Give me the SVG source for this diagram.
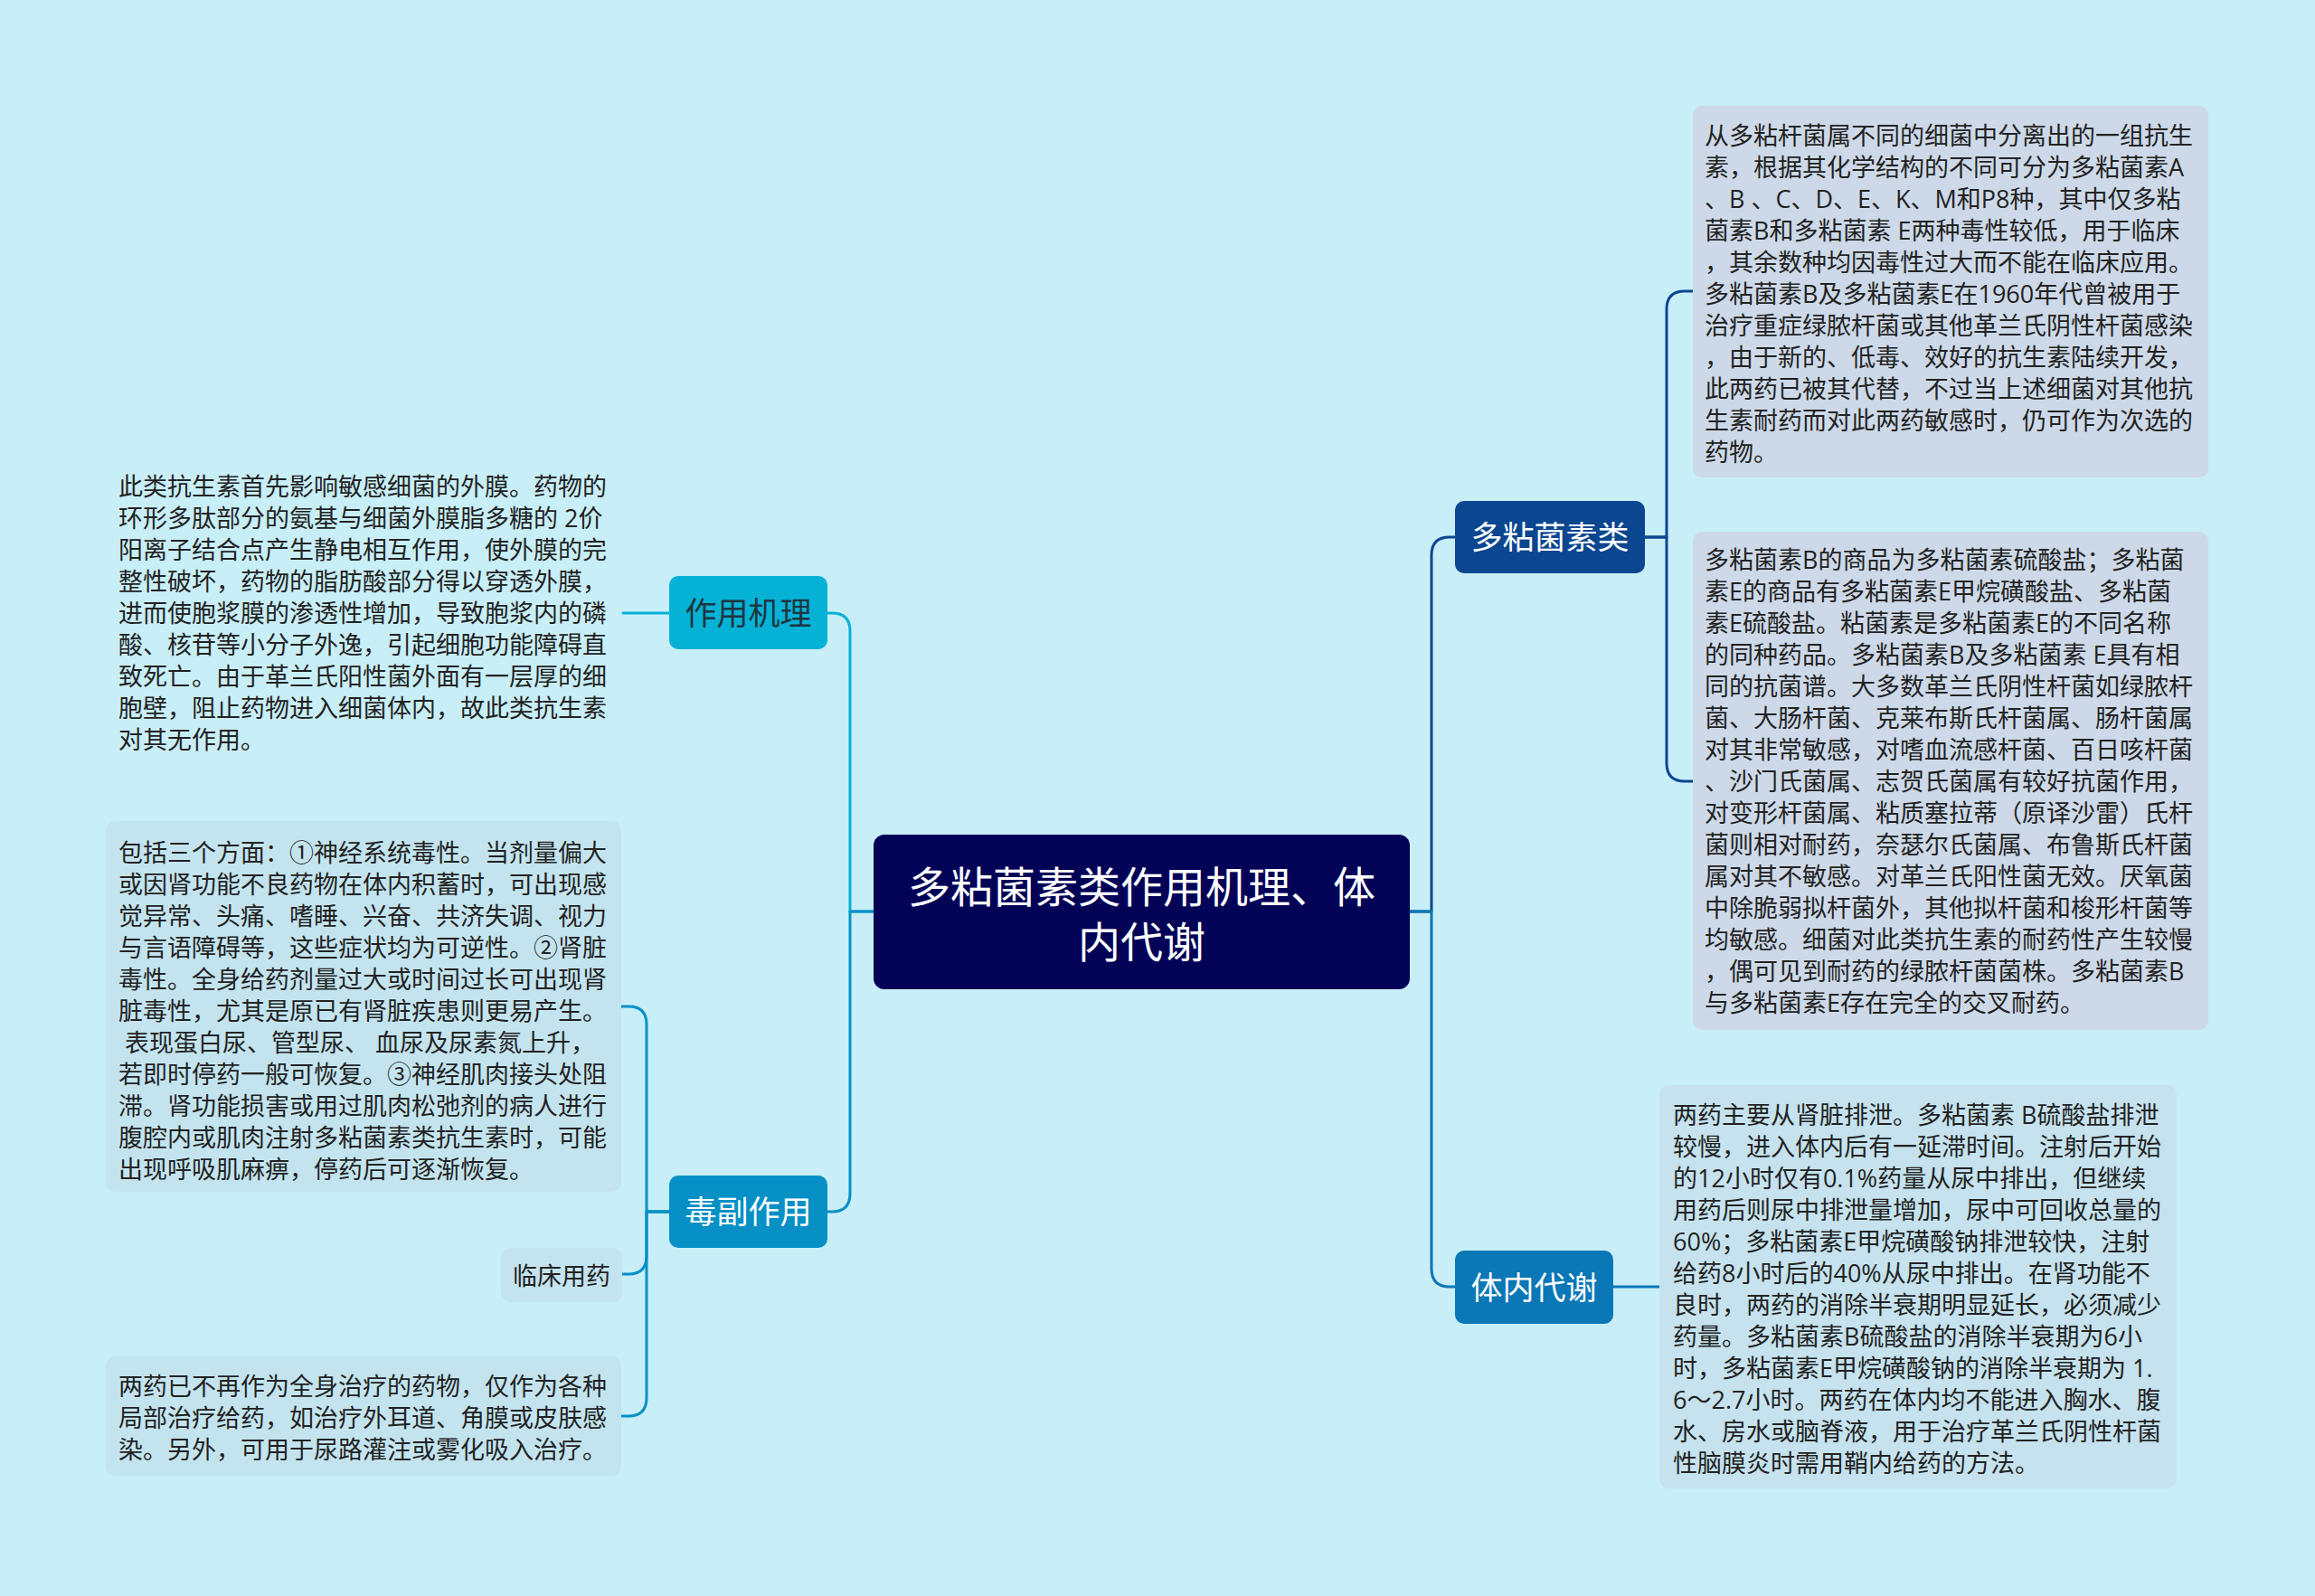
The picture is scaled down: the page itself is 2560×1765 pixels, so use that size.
<svg xmlns="http://www.w3.org/2000/svg" width="2560" height="1765" viewBox="0 0 2560 1765">
<style>
.t{font-family:"Open Sans","Noto Sans CJK SC",sans-serif;font-size:27px;fill:#222;}
.n{font-family:"Open Sans","Noto Sans CJK SC",sans-serif;font-size:35px;text-anchor:middle;}
.c{fill:none;stroke-width:3;stroke-linecap:round;stroke-linejoin:round;}
.bx1{fill:#cdd9e8;}
.bx2{fill:#c3e4ef;}
</style>
<rect x="0" y="0" width="2560" height="1765" fill="#c8eef7"/>
<g id="connectors">
<path class="c" stroke="#05b2d6" d="M966,1008 H940 V698 Q940,678 920,678 H915"/>
<path class="c" stroke="#0690c6" d="M966,1008 H940 V1320 Q940,1340 920,1340 H915"/>
<path class="c" stroke="#0b4690" d="M1559,1008 H1583 V614 Q1583,594 1603,594 H1609"/>
<path class="c" stroke="#0a77b7" d="M1559,1008 H1583 V1403 Q1583,1423 1603,1423 H1609"/>
<path class="c" stroke="#0b4690" d="M1819,594 H1843 V342 Q1843,322 1863,322 H1872"/>
<path class="c" stroke="#0b4690" d="M1819,594 H1843 V844 Q1843,864 1863,864 H1872"/>
<path class="c" stroke="#0a77b7" d="M1784,1423 H1835"/>
<path class="c" stroke="#05b2d6" d="M740,678 H689"/>
<path class="c" stroke="#0690c6" d="M740,1340 H715 V1133 Q715,1113 695,1113 H687"/>
<path class="c" stroke="#0690c6" d="M740,1340 H715 V1389 Q715,1409 695,1409 H688"/>
<path class="c" stroke="#0690c6" d="M740,1340 H715 V1546 Q715,1566 695,1566 H687"/>
</g>
<g id="root">
<rect x="966" y="923" width="593" height="171" rx="12" fill="#020357"/>
<text x="1262.5" y="998" font-family="Open Sans, Noto Sans CJK SC, sans-serif" font-size="47" fill="#fff" text-anchor="middle">多粘菌素类作用机理、体</text>
<text x="1262.5" y="1059" font-family="Open Sans, Noto Sans CJK SC, sans-serif" font-size="47" fill="#fff" text-anchor="middle">内代谢</text>
</g>
<g id="node-zuoyongjili">
<rect x="740" y="637" width="175" height="81" rx="10" fill="#05b2d6"/>
<text class="n" x="827.5" y="691" fill="#1f3540">作用机理</text>
</g>
<g id="node-dufuzuoyong">
<rect x="740" y="1300" width="175" height="80" rx="10" fill="#0690c6"/>
<text class="n" x="827.5" y="1353" fill="#fff">毒副作用</text>
</g>
<g id="node-duonianjunsulei">
<rect x="1609" y="554" width="210" height="80" rx="10" fill="#0b4690"/>
<text class="n" x="1714" y="607" fill="#fff">多粘菌素类</text>
</g>
<g id="node-tineidaixie">
<rect x="1609" y="1383" width="175" height="81" rx="10" fill="#0a77b7"/>
<text class="n" x="1696.5" y="1437" fill="#fff">体内代谢</text>
</g>
<g id="text-jili">
<text class="t">
<tspan x="131" y="548">此类抗生素首先影响敏感细菌的外膜。药物的</tspan>
<tspan x="131" y="583">环形多肽部分的氨基与细菌外膜脂多糖的 2价</tspan>
<tspan x="131" y="618">阳离子结合点产生静电相互作用，使外膜的完</tspan>
<tspan x="131" y="653">整性破坏，药物的脂肪酸部分得以穿透外膜，</tspan>
<tspan x="131" y="688">进而使胞浆膜的渗透性增加，导致胞浆内的磷</tspan>
<tspan x="131" y="723">酸、核苷等小分子外逸，引起细胞功能障碍直</tspan>
<tspan x="131" y="758">致死亡。由于革兰氏阳性菌外面有一层厚的细</tspan>
<tspan x="131" y="793">胞壁，阻止药物进入细菌体内，故此类抗生素</tspan>
<tspan x="131" y="828">对其无作用。</tspan>
</text>
</g>
<g id="box-duxing">
<rect class="bx2" x="117" y="908" width="570" height="410" rx="10"/>
<text class="t" xml:space="preserve"><tspan x="131" y="953">包括三个方面：①神经系统毒性。当剂量偏大</tspan><tspan x="131" y="988">或因肾功能不良药物在体内积蓄时，可出现感</tspan><tspan x="131" y="1023">觉异常、头痛、嗜睡、兴奋、共济失调、视力</tspan><tspan x="131" y="1058">与言语障碍等，这些症状均为可逆性。②肾脏</tspan><tspan x="131" y="1093">毒性。全身给药剂量过大或时间过长可出现肾</tspan><tspan x="131" y="1128">脏毒性，尤其是原已有肾脏疾患则更易产生。</tspan><tspan x="131" y="1163"> 表现蛋白尿、管型尿、 血尿及尿素氮上升，</tspan><tspan x="131" y="1198">若即时停药一般可恢复。③神经肌肉接头处阻</tspan><tspan x="131" y="1233">滞。肾功能损害或用过肌肉松弛剂的病人进行</tspan><tspan x="131" y="1268">腹腔内或肌肉注射多粘菌素类抗生素时，可能</tspan><tspan x="131" y="1303">出现呼吸肌麻痹，停药后可逐渐恢复。</tspan></text>
</g>
<g id="box-linchuang">
<rect class="bx2" x="554" y="1380" width="134" height="60" rx="10"/>
<text class="t" x="675" y="1421" text-anchor="end">临床用药</text>
</g>
<g id="box-jubu">
<rect class="bx2" x="117" y="1500" width="570" height="132" rx="10"/>
<text class="t">
<tspan x="131" y="1543">两药已不再作为全身治疗的药物，仅作为各种</tspan>
<tspan x="131" y="1578">局部治疗给药，如治疗外耳道、角膜或皮肤感</tspan>
<tspan x="131" y="1613">染。另外，可用于尿路灌注或雾化吸入治疗。</tspan>
</text>
</g>
<g id="box-laiyuan">
<rect class="bx1" x="1872" y="117" width="570" height="411" rx="10"/>
<text class="t">
<tspan x="1885" y="160">从多粘杆菌属不同的细菌中分离出的一组抗生</tspan>
<tspan x="1885" y="195">素，根据其化学结构的不同可分为多粘菌素A</tspan>
<tspan x="1885" y="230">、B 、C、D、E、K、M和P8种，其中仅多粘</tspan>
<tspan x="1885" y="265">菌素B和多粘菌素 E两种毒性较低，用于临床</tspan>
<tspan x="1885" y="300">，其余数种均因毒性过大而不能在临床应用。</tspan>
<tspan x="1885" y="335">多粘菌素B及多粘菌素E在1960年代曾被用于</tspan>
<tspan x="1885" y="370">治疗重症绿脓杆菌或其他革兰氏阴性杆菌感染</tspan>
<tspan x="1885" y="405">，由于新的、低毒、效好的抗生素陆续开发，</tspan>
<tspan x="1885" y="440">此两药已被其代替，不过当上述细菌对其他抗</tspan>
<tspan x="1885" y="475">生素耐药而对此两药敏感时，仍可作为次选的</tspan>
<tspan x="1885" y="510">药物。</tspan>
</text>
</g>
<g id="box-kangjunpu">
<rect class="bx1" x="1872" y="588" width="570" height="551" rx="10"/>
<text class="t">
<tspan x="1885" y="629">多粘菌素B的商品为多粘菌素硫酸盐；多粘菌</tspan>
<tspan x="1885" y="664">素E的商品有多粘菌素E甲烷磺酸盐、多粘菌</tspan>
<tspan x="1885" y="699">素E硫酸盐。粘菌素是多粘菌素E的不同名称</tspan>
<tspan x="1885" y="734">的同种药品。多粘菌素B及多粘菌素 E具有相</tspan>
<tspan x="1885" y="769">同的抗菌谱。大多数革兰氏阴性杆菌如绿脓杆</tspan>
<tspan x="1885" y="804">菌、大肠杆菌、克莱布斯氏杆菌属、肠杆菌属</tspan>
<tspan x="1885" y="839">对其非常敏感，对嗜血流感杆菌、百日咳杆菌</tspan>
<tspan x="1885" y="874">、沙门氏菌属、志贺氏菌属有较好抗菌作用，</tspan>
<tspan x="1885" y="909">对变形杆菌属、粘质塞拉蒂（原译沙雷）氏杆</tspan>
<tspan x="1885" y="944">菌则相对耐药，奈瑟尔氏菌属、布鲁斯氏杆菌</tspan>
<tspan x="1885" y="979">属对其不敏感。对革兰氏阳性菌无效。厌氧菌</tspan>
<tspan x="1885" y="1014">中除脆弱拟杆菌外，其他拟杆菌和梭形杆菌等</tspan>
<tspan x="1885" y="1049">均敏感。细菌对此类抗生素的耐药性产生较慢</tspan>
<tspan x="1885" y="1084">，偶可见到耐药的绿脓杆菌菌株。多粘菌素B</tspan>
<tspan x="1885" y="1119">与多粘菌素E存在完全的交叉耐药。</tspan>
</text>
</g>
<g id="box-daixie">
<rect x="1835" y="1200" width="572" height="446" rx="10" fill="#c5e2ee"/>
<text class="t">
<tspan x="1850" y="1243">两药主要从肾脏排泄。多粘菌素 B硫酸盐排泄</tspan>
<tspan x="1850" y="1278">较慢，进入体内后有一延滞时间。注射后开始</tspan>
<tspan x="1850" y="1313">的12小时仅有0.1%药量从尿中排出，但继续</tspan>
<tspan x="1850" y="1348">用药后则尿中排泄量增加，尿中可回收总量的</tspan>
<tspan x="1850" y="1383">60%；多粘菌素E甲烷磺酸钠排泄较快，注射</tspan>
<tspan x="1850" y="1418">给药8小时后的40%从尿中排出。在肾功能不</tspan>
<tspan x="1850" y="1453">良时，两药的消除半衰期明显延长，必须减少</tspan>
<tspan x="1850" y="1488">药量。多粘菌素B硫酸盐的消除半衰期为6小</tspan>
<tspan x="1850" y="1523">时，多粘菌素E甲烷磺酸钠的消除半衰期为 1.</tspan>
<tspan x="1850" y="1558">6～2.7小时。两药在体内均不能进入胸水、腹</tspan>
<tspan x="1850" y="1593">水、房水或脑脊液，用于治疗革兰氏阴性杆菌</tspan>
<tspan x="1850" y="1628">性脑膜炎时需用鞘内给药的方法。</tspan>
</text>
</g>
</svg>
